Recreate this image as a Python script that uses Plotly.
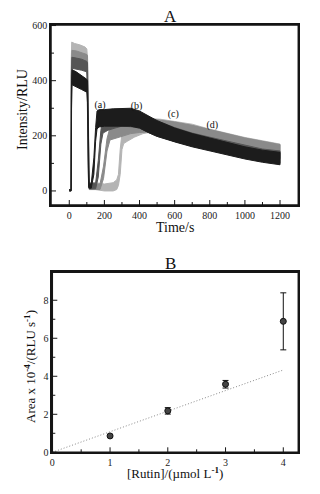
import plotly.graph_objects as go

# ---------- Panel A: envelope (low/high) of each noisy trace ----------
t_a  = [0, 11, 13, 16, 40, 70, 100, 104, 110, 114, 125, 140, 150, 158, 170, 200, 250, 300, 350, 400, 450, 500, 600, 700, 800, 900, 1000, 1100, 1200]
hi_a = [5, 5, 400, 440, 432, 420, 405, 400, 40, 25, 25, 120, 230, 290, 295, 295, 298, 300, 300, 290, 272, 255, 228, 208, 192, 176, 160, 148, 140]
lo_a = [0, 0, 300, 385, 378, 368, 358, 320, 15, 10, 10, 60, 180, 225, 232, 235, 235, 236, 235, 228, 212, 198, 178, 160, 145, 130, 116, 104, 95]

t_b  = [0, 10, 12, 15, 40, 70, 100, 104, 110, 114, 150, 165, 180, 192, 220, 260, 300, 350, 400, 450, 500, 600, 700, 800, 900, 1000, 1100, 1200]
hi_b = [5, 5, 420, 485, 482, 478, 470, 465, 45, 28, 28, 110, 220, 265, 275, 282, 290, 292, 285, 270, 255, 230, 210, 195, 180, 165, 152, 145]
lo_b = [0, 0, 340, 445, 442, 438, 432, 400, 15, 8, 8, 50, 170, 210, 220, 228, 235, 233, 228, 212, 198, 180, 162, 148, 134, 120, 108, 100]

t_c  = [0, 10, 12, 15, 40, 70, 100, 104, 110, 114, 175, 195, 215, 232, 260, 300, 350, 400, 450, 500, 600, 700, 800, 900, 1000, 1100, 1200]
hi_c = [5, 5, 440, 510, 508, 502, 495, 490, 50, 25, 25, 90, 190, 230, 238, 248, 258, 262, 262, 258, 250, 238, 222, 206, 192, 180, 168]
lo_c = [0, 0, 360, 455, 452, 448, 442, 410, 15, 5, 5, 45, 145, 185, 190, 198, 208, 212, 214, 210, 202, 190, 176, 160, 146, 132, 118]

t_d  = [0, 9, 11, 14, 30, 60, 90, 100, 104, 110, 116, 150, 200, 250, 270, 280, 290, 300, 310, 330, 370, 420, 470, 520, 600, 700, 800, 900, 1000, 1100, 1200]
hi_d = [5, 5, 470, 540, 535, 530, 522, 515, 480, 60, 30, 30, 25, 30, 40, 60, 150, 210, 225, 235, 248, 258, 262, 260, 252, 242, 224, 208, 194, 182, 170]
lo_d = [0, 0, 380, 472, 470, 465, 460, 455, 380, 15, 5, 5, 0, 0, 5, 20, 60, 150, 172, 180, 195, 208, 214, 210, 202, 190, 176, 160, 146, 132, 115]

trace_labels = ["(a)", "(b)", "(c)", "(d)"]
label_t = [175, 383, 592, 814]
label_y = [311, 307, 277, 236]

time_ticks = [0, 200, 400, 600, 800, 1000, 1200]
int_ticks = [0, 200, 400, 600]

# ---------- Panel B ----------
rutin = [1, 2, 3, 4]
area = [0.86, 2.18, 3.58, 6.89]
area_err = [0.08, 0.17, 0.2, 1.5]
fit_x = [0, 4]
fit_y = [0, 4.33]
rutin_ticks = [0, 1, 2, 3, 4]
area_ticks = [0, 2, 4, 6, 8]

FONT = "Liberation Serif"
INK = "#151515"
W, H, OFF = 312, 486, 8   # page has an 8px body margin


def px_x(p):
    return (p - OFF) / W


def px_y(p):
    return 1 - (p - OFF) / H


A_X, A_Y = (51, 298.3), (25, 205)
B_X, B_Y = (52.3, 298.3), (272.3, 452.3)
A_XR, A_YR = [-104, 1304], [-51, 602]
B_XR, B_YR = [0, 4.26], [0, 9.47]

fig = go.Figure()

series = [
    (t_d, lo_d, hi_d, "#b4b4b4"),
    (t_c, lo_c, hi_c, "#8a8a8a"),
    (t_b, lo_b, hi_b, "#555555"),
    (t_a, lo_a, hi_a, "#1c1c1c"),
]
for t, lo, hi, col in series:
    xs = list(t) + list(reversed(t))
    ys = list(hi) + list(reversed(lo))
    fig.add_trace(go.Scatter(x=xs, y=ys, mode="lines", fill="toself",
                             fillcolor=col, line=dict(color=col, width=1),
                             xaxis="x", yaxis="y", showlegend=False,
                             hoverinfo="skip"))

fig.add_trace(go.Scatter(x=label_t, y=label_y, text=trace_labels, mode="text",
                         textfont=dict(family=FONT, size=10, color="#111"),
                         xaxis="x", yaxis="y", showlegend=False))

fig.add_trace(go.Scatter(x=fit_x, y=fit_y, mode="lines",
                         line=dict(color="#888888", width=1, dash="1px,2px"),
                         xaxis="x2", yaxis="y2", showlegend=False))
fig.add_trace(go.Scatter(x=rutin, y=area, mode="markers",
                         marker=dict(size=6, color="#444444",
                                     line=dict(color="#111111", width=1)),
                         error_y=dict(type="data", array=area_err, color="#111111",
                                      thickness=1, width=3),
                         xaxis="x2", yaxis="y2", showlegend=False))


def tick_segments(xr, yr, xpx, ypx, xticks, yticks, xa, ya):
    x0, x1 = xr
    y0, y1 = yr
    dy = (y1 - y0) / (ypx[1] - ypx[0])
    dx = (x1 - x0) / (xpx[1] - xpx[0])
    sx, sy = [], []
    for v in xticks:
        sx += [v, v, None]
        sy += [y0, y0 + 5 * dy, None]
    for a, b in zip(xticks[:-1], xticks[1:]):
        m = (a + b) / 2
        sx += [m, m, None]
        sy += [y0, y0 + 3 * dy, None]
    for v in yticks:
        sx += [x0, x0 + 5 * dx, None]
        sy += [v, v, None]
    for a, b in zip(yticks[:-1], yticks[1:]):
        m = (a + b) / 2
        sx += [x0, x0 + 3 * dx, None]
        sy += [m, m, None]
    fig.add_trace(go.Scatter(x=sx, y=sy, mode="lines",
                             line=dict(color=INK, width=1),
                             xaxis=xa, yaxis=ya, showlegend=False, hoverinfo="skip"))


tick_segments(A_XR, A_YR, A_X, A_Y, time_ticks, int_ticks, "x", "y")
tick_segments(B_XR, B_YR, B_X, B_Y, rutin_ticks, area_ticks, "x2", "y2")


def axis(domain, rng, ticks_list, anchor):
    return dict(domain=domain, range=rng, anchor=anchor,
                tickvals=ticks_list, ticks="",
                showline=True, linecolor=INK, linewidth=1.5, mirror=True,
                showgrid=False, zeroline=False, automargin=False,
                tickfont=dict(family=FONT, size=10, color="#222"))


fig.update_layout(
    template="none",
    width=W, height=H,
    margin=dict(l=0, r=0, t=0, b=0),
    paper_bgcolor="#ffffff", plot_bgcolor="rgba(255,255,255,0)",
    showlegend=False,
    xaxis=axis([px_x(A_X[0]), px_x(A_X[1])], A_XR, time_ticks, "y"),
    yaxis=axis([px_y(A_Y[1]), px_y(A_Y[0])], A_YR, int_ticks, "x"),
    xaxis2=axis([px_x(B_X[0]), px_x(B_X[1])], B_XR, rutin_ticks, "y2"),
    yaxis2=axis([px_y(B_Y[1]), px_y(B_Y[0])], B_YR, area_ticks, "x2"),
)

for xr, yr in (("x domain", "y domain"), ("x2 domain", "y2 domain")):
    fig.add_shape(type="rect", xref=xr, yref=yr, x0=0, x1=1, y0=0, y1=1,
                  line=dict(color=INK, width=1.5), fillcolor="rgba(0,0,0,0)",
                  layer="above")


def note(text, x, y, size, angle=0, yanchor="middle"):
    fig.add_annotation(text=text, x=px_x(x), y=px_y(y), xref="paper", yref="paper",
                       showarrow=False, xanchor="center", yanchor=yanchor,
                       textangle=angle,
                       font=dict(family=FONT, size=size, color="#111"))


note("A", 170, 28, 17, yanchor="bottom")
note("B", 170, 275, 17, yanchor="bottom")
note("Time/s", 175, 227, 14)
note("Intensity/RLU", 22, 110, 14, angle=-90)
note("[Rutin]/(µmol L<sup><b>-1</b></sup>)", 175, 473, 13)
note("Area x 10<sup><b>-4</b></sup>/(RLU s<sup><b>-1</b></sup>)", 30, 367, 13, angle=-90)

fig.write_html("out.html")
